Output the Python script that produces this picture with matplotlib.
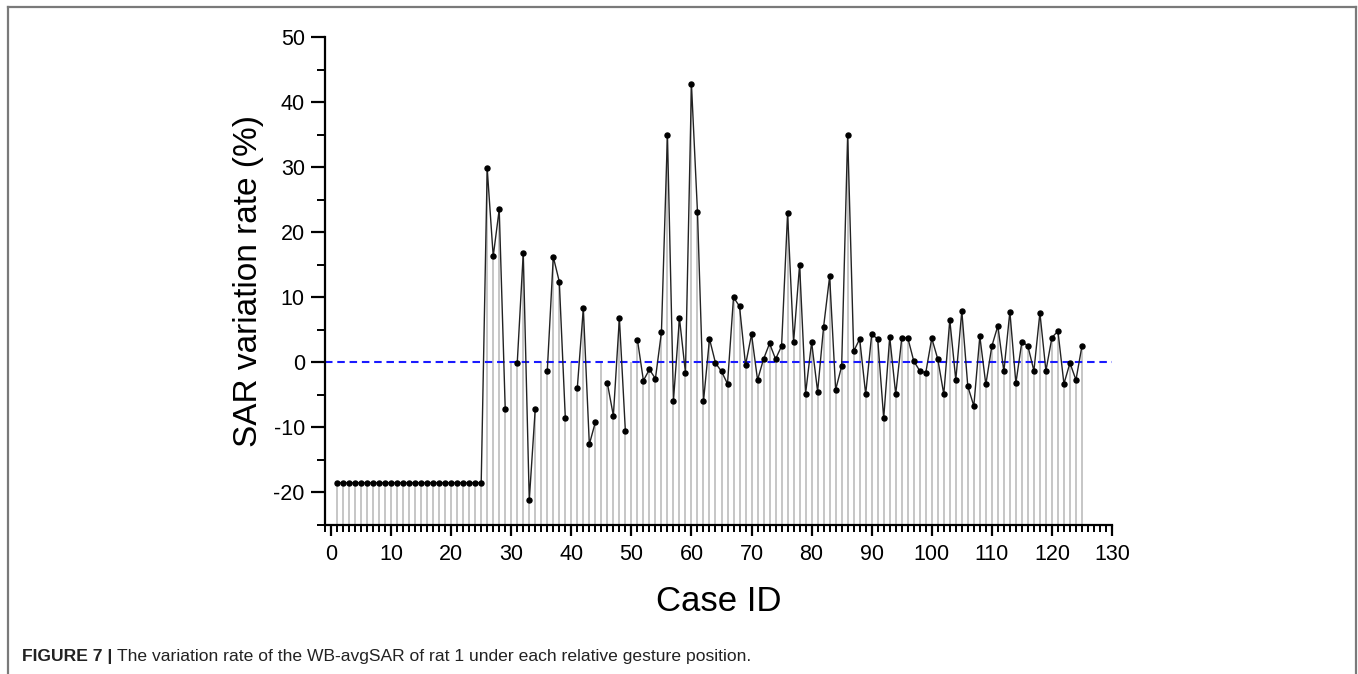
import matplotlib
matplotlib.use("Agg")
import matplotlib.pyplot as plt
import numpy as np
from matplotlib.lines import Line2D
from matplotlib.ticker import MultipleLocator

plt.rcParams['font.family'] = ['Liberation Sans', 'DejaVu Sans']
plt.rcParams['axes.unicode_minus'] = False

# case ids and SAR variation rate (%), nan = no value plotted
case_id = np.arange(1, 126)
sar_rate = [-18.5] * 25 + [
    29.8, 16.3, 23.5, -7.2, np.nan, -0.1, 16.8, -21.2, -7.1, np.nan,   # 26-35
    -1.3, 16.2, 12.4, -8.5, np.nan, -3.9, 8.3, -12.6, -9.2, np.nan,     # 36-45
    -3.2, -8.2, 6.8, -10.6, np.nan, 3.5, -2.8, -1.1, -2.5, 4.6,         # 46-55
    35.0, -5.9, 6.8, -1.6, 42.7, 23.1, -6.0, 3.6, -0.1, -1.4,           # 56-65
    -3.3, 10.0, 8.6, -0.4, 4.3, -2.7, 0.5, 2.9, 0.5, 2.5,               # 66-75
    22.9, 3.1, 15.0, -4.8, 3.1, -4.5, 5.5, 13.2, -4.2, -0.6,            # 76-85
    35.0, 1.7, 3.6, -4.9, 4.3, 3.6, -8.6, 3.9, -4.9, 3.7,               # 86-95
    3.8, 0.2, -1.3, -1.6, 3.7, 0.5, -4.9, 6.5, -2.7, 7.9,               # 96-105
    -3.7, -6.7, 4.0, -3.4, 2.5, 5.6, -1.4, 7.8, -3.2, 3.2,              # 106-115
    2.5, -1.3, 7.6, -1.3, 3.8, 4.8, -3.3, -0.1, -2.7, 2.5,              # 116-125
]
sar_rate = np.array(sar_rate, dtype=float)
stem_top = np.nan_to_num(sar_rate, nan=0.0)

fig = plt.figure(figsize=(13.58, 6.74), dpi=100)
ax = fig.add_axes([325 / 1358, (674 - 525) / 674, (1112 - 325) / 1358, 488 / 674])

ymin = -25
ax.vlines(case_id, ymin, stem_top, color="#c2c2c2", lw=1.3, zorder=1)
ax.plot([-1, 130], [0, 0], color="#1a1aff", lw=1.5, ls=(0, (3.6, 2.3)), zorder=2)
ax.plot(case_id, sar_rate, color="#222222", lw=1.0, marker="o", ms=3.6,
        mfc="black", mec="black", zorder=3)

ax.set_xlim(-1, 130)
ax.set_ylim(ymin, 50)
ax.xaxis.set_major_locator(MultipleLocator(10))
ax.xaxis.set_minor_locator(MultipleLocator(1))
ax.yaxis.set_major_locator(MultipleLocator(10))
ax.yaxis.set_minor_locator(MultipleLocator(5))
ax.set_yticks(np.arange(-20, 51, 10))

for side in ["top", "right"]:
    ax.spines[side].set_visible(False)
for side in ["left", "bottom"]:
    ax.spines[side].set_linewidth(1.6)

ax.tick_params(axis="both", which="major", direction="out", width=1.6,
               labelsize=15.5, colors="black")
ax.tick_params(axis="y", which="major", length=10, pad=4.5)
ax.tick_params(axis="y", which="minor", length=6, width=1.4)
ax.tick_params(axis="x", which="major", length=8, pad=6)
ax.tick_params(axis="x", which="minor", length=5, width=1.4)

ax.set_ylabel("SAR variation rate (%)", fontsize=24, labelpad=7)
ax.set_xlabel("Case ID", fontsize=25, labelpad=14)

# page frame around the figure
fc = "#7a7a7a"
fig.add_artist(Line2D([8 / 1358, 8 / 1358], [0, 1 - 7 / 674], transform=fig.transFigure, color=fc, lw=1.6))
fig.add_artist(Line2D([1356 / 1358, 1356 / 1358], [0, 1 - 7 / 674], transform=fig.transFigure, color=fc, lw=1.6))
fig.add_artist(Line2D([8 / 1358, 1356 / 1358], [1 - 7 / 674, 1 - 7 / 674], transform=fig.transFigure, color=fc, lw=1.6))

# caption
cap_y = 1 - 656 / 674
t1 = fig.text(22 / 1358, cap_y, "FIGURE 7 |", fontsize=12.6, fontweight="bold",
              color="#222222", va="center", ha="left")
fig.canvas.draw()
bb = t1.get_window_extent()
fig.text((bb.x1 + 5) / 1358, cap_y,
         "The variation rate of the WB-avgSAR of rat 1 under each relative gesture position.",
         fontsize=12.6, color="#222222", va="center", ha="left")

fig.savefig("out.png", dpi=100)
